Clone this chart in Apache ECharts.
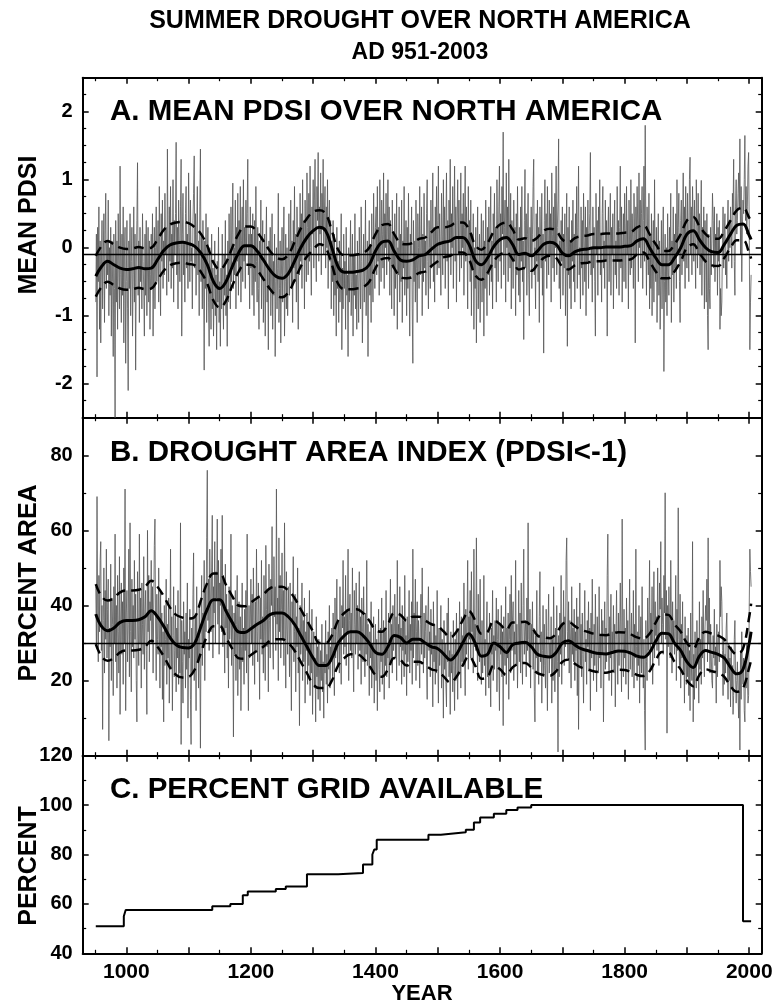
<!DOCTYPE html>
<html><head><meta charset="utf-8">
<script src="https://cdn.jsdelivr.net/npm/echarts@6/dist/echarts.min.js"></script>
<style>html,body{margin:0;padding:0;background:#fff}#c{width:776px;height:1005px}</style>
</head><body><div id="c"></div>
<script>
const startYear = 951;
// Panel A: annual mean PDSI, 951-2003
const pdsiAnnual = [
-0.8,0.2,-1.9,0.3,-0.5,0.6,-1.2,0.1,-1.4,-0.3,
0.4,-0.9,-0.2,0.5,-1.1,0.2,0.8,-0.6,0.1,-0.4,
0.7,-1.0,0.0,-0.7,0.3,-1.3,0.1,-0.5,-1.6,0.2,
-0.6,-2.5,0.4,-0.8,0.1,-1.2,0.5,-0.3,-0.9,1.2,
-0.4,-1.1,0.2,-0.7,0.6,-1.4,-0.1,0.3,-1.7,-0.5,
0.4,-0.9,-2.1,0.1,-0.6,0.5,-1.0,-0.2,0.3,-1.3,
-0.4,0.6,-0.8,0.2,-1.8,-0.3,0.4,1.25,-0.7,0.1,
-1.1,0.3,-0.5,0.0,-0.9,0.5,-0.2,-0.6,-1.3,0.2,
-0.7,0.4,-1.0,-0.3,0.3,-0.8,0.1,-1.2,-0.4,0.2,
-0.6,0.5,-1.3,-0.2,0.3,-0.9,0.0,0.6,-0.5,-0.1,
0.4,-0.8,0.9,-0.3,-1.0,0.5,-0.2,0.7,-0.6,0.1,
-0.4,0.8,-0.1,0.3,-0.7,1.45,0.0,-0.5,0.6,-0.2,
0.9,-0.6,0.2,-0.3,1.0,-0.8,0.4,-0.1,0.5,1.55,
-0.4,0.3,-0.9,0.7,0.0,-0.5,0.6,1.3,-1.3,0.2,
0.8,-0.4,0.1,-0.8,0.5,0.9,-0.3,0.2,-0.6,1.1,
0.3,-0.5,0.7,-0.2,0.0,-0.9,0.4,0.8,1.35,-0.3,
0.5,-0.7,0.2,0.9,-0.4,0.1,-1.0,0.6,1.45,-0.5,
0.2,-0.9,0.4,-0.3,-1.8,0.1,-0.6,0.5,-1.1,-0.2,
0.3,-0.8,-1.45,0.0,-0.5,-1.2,0.2,-0.9,-0.3,-1.3,
-0.6,0.1,-1.0,-0.4,-1.5,-0.2,-0.8,0.3,-1.1,-0.5,
-1.45,-0.3,-0.9,0.2,-0.6,-1.2,-0.1,-0.7,0.4,-1.0,
-0.4,-1.45,0.1,-0.8,0.5,-0.3,-0.9,0.6,-0.5,0.2,
0.95,-0.6,0.0,-0.4,0.7,-0.9,0.3,-0.2,0.8,-0.7,
0.4,-0.3,0.9,-0.8,0.1,0.6,-0.5,1.0,-0.2,0.3,
-0.6,0.7,-0.1,0.5,1.3,-0.4,0.2,-0.9,0.6,-0.3,
0.2,-0.7,0.5,-0.3,-1.0,0.4,-0.5,0.9,-0.2,-0.8,
0.3,-0.6,-1.2,0.1,-0.4,0.7,-0.9,-0.2,0.4,-1.1,
-0.5,0.2,-1.3,-0.1,0.6,-0.8,-0.3,-1.5,0.1,-0.6,
0.3,-1.0,-0.4,0.5,-1.2,-0.2,-0.7,0.2,-1.6,-0.5,
0.0,-0.9,-0.3,0.8,-1.1,-0.6,0.1,-1.4,-0.4,0.3,
-0.8,-0.2,0.6,-1.3,-0.5,0.2,-0.9,0.0,-1.0,-0.3,
0.5,-0.7,-0.1,0.7,-0.6,0.1,-1.1,0.4,-0.3,0.9,
-0.5,0.2,-0.8,0.6,0.0,-1.2,0.3,-0.4,0.8,-0.2,
0.5,-0.6,1.0,-0.1,0.4,-0.9,0.7,0.1,-0.5,1.1,
0.3,-0.4,0.8,-0.2,1.2,0.0,-0.7,0.6,0.2,1.0,
-0.3,0.7,1.3,0.1,-0.5,0.9,0.4,1.4,-0.2,0.6,
0.2,1.1,-0.4,0.8,0.3,1.3,-0.1,0.5,0.9,-0.3,
0.6,0.0,1.0,-0.6,0.3,0.7,-0.2,0.4,-0.9,0.1,
-0.5,0.4,-1.0,0.2,-0.7,-0.1,-1.3,0.3,-0.6,-0.2,
-1.1,0.1,-0.8,-0.4,0.5,-1.5,-0.3,-0.9,0.2,-0.6,
-0.2,-1.2,0.3,-0.7,-0.4,-1.6,0.0,-0.8,-0.3,0.4,
-1.0,-0.5,0.2,-1.3,-0.1,-0.7,0.5,-0.9,-0.4,-1.2,
0.1,-0.6,-1.1,0.3,-0.4,-0.9,0.6,-0.2,-1.4,-0.5,
0.2,-0.8,-0.3,0.7,-1.0,-0.4,0.1,-1.6,-0.2,0.4,
-0.7,0.0,-1.1,0.5,-0.3,-0.8,0.8,-0.1,-0.6,0.3,
0.6,-0.4,0.9,-0.2,0.3,-0.7,1.0,0.1,-0.5,0.7,
0.2,-0.3,1.1,-0.6,0.5,0.0,0.8,-0.4,0.3,1.0,
-0.2,0.6,-0.7,0.4,0.1,-0.9,0.7,-0.3,0.2,-1.0,
0.5,-0.6,-0.1,0.8,-1.2,0.0,-0.4,0.6,-0.8,0.2,
-0.5,0.7,-1.1,0.1,-0.3,0.9,-0.7,-0.2,0.4,-1.0,
0.3,-0.6,0.8,-0.4,-1.3,0.2,-0.1,0.6,-0.9,-1.7,
0.4,-0.5,0.1,-0.8,0.7,-0.3,-1.1,0.5,0.0,-0.6,
0.9,-0.4,-0.1,0.6,-1.0,0.2,-0.5,0.8,-0.3,0.1,
-0.7,0.5,1.0,-0.2,-0.9,0.4,0.0,-0.6,0.7,-0.3,
0.2,1.1,-0.5,0.3,-0.8,0.6,-0.1,0.9,-0.4,0.4,
1.2,-0.3,0.5,0.0,-0.7,0.8,0.2,-0.4,1.0,-0.1,
0.6,-0.6,0.3,1.1,-0.2,0.4,-0.9,0.7,0.1,1.3,
-0.4,0.5,0.0,0.9,-0.6,0.3,1.2,-0.2,0.6,-0.8,
0.4,1.0,-0.1,0.7,-0.5,0.2,1.1,-0.3,0.5,0.0,
0.8,-0.7,0.3,1.2,-0.2,0.6,0.1,-0.9,0.9,-0.1,
0.4,-0.5,0.7,-1.0,0.2,-0.3,0.5,-1.2,0.0,-0.6,
0.3,-1.4,-0.2,0.6,-0.9,-0.4,0.2,-1.1,-0.1,0.5,
-0.8,-0.3,0.4,-1.3,0.1,-0.6,0.7,-0.2,-1.0,0.3,
-0.4,0.6,-0.7,0.2,0.9,-0.5,0.1,-0.9,0.5,0.0,
0.8,-0.3,0.3,-0.8,1.0,0.1,-0.5,0.6,1.2,-0.2,
0.5,-0.6,0.9,0.2,1.7,-0.4,0.3,0.7,-0.8,1.1,
0.0,0.6,-0.5,1.3,0.2,-0.3,0.8,-0.9,0.4,0.1,
-0.6,0.7,-0.2,0.3,-1.0,0.5,-0.4,0.9,-0.1,-0.7,
0.3,-0.8,0.6,-0.2,0.9,-0.5,0.1,-1.35,0.4,1.15,
-0.3,0.5,-0.7,0.2,0.8,-0.4,-1.0,0.3,-0.1,0.6,
-0.6,0.2,0.9,1.3,-0.4,0.0,-0.9,0.5,-0.2,0.7,
-0.5,0.3,-1.1,0.6,0.1,-0.3,0.8,-0.7,0.2,-1.55,
0.4,1.0,-0.2,0.5,-0.6,0.9,0.1,-0.4,0.7,-0.1,
0.5,-0.8,1.1,0.2,-0.3,0.6,-0.5,0.8,0.0,1.2,
-0.4,0.3,0.7,1.6,-0.6,0.1,-0.9,0.4,-0.2,0.6,
-0.7,0.2,-0.3,0.5,-1.0,0.0,0.8,-1.45,0.3,-0.4,
0.6,-0.6,0.1,-0.9,0.4,-0.2,0.7,-0.5,0.2,-0.8,
0.5,-0.1,0.9,-0.6,0.3,1.2,-0.4,0.0,-0.9,0.6,
-0.3,0.4,-0.7,0.8,0.1,-0.5,0.6,-1.0,0.3,-0.2,
0.7,-0.6,0.2,0.5,1.4,-0.4,0.0,-0.8,0.6,-0.3,
0.3,-0.5,-1.3,0.8,-0.1,0.4,-0.7,0.6,0.0,1.0,
-0.4,0.2,-0.8,0.5,0.9,-0.3,0.1,-0.6,0.7,-0.2,
0.4,-1.3,0.2,0.6,-0.5,0.0,0.8,-0.7,0.3,-0.1,
0.5,-0.9,0.2,0.7,-0.4,0.1,-0.6,0.9,-0.2,0.4,
-0.7,0.3,1.2,-0.3,0.6,-0.8,0.0,0.5,-0.5,0.8,
0.2,-0.6,0.9,-0.1,0.4,-0.9,0.7,0.0,-0.4,1.0,
-0.3,0.5,0.1,-0.6,0.8,0.2,-1.4,0.6,-0.1,0.9,
0.3,-0.5,1.1,0.0,0.7,-0.3,0.5,0.9,-0.6,0.4,
1.2,-0.2,1.8,0.3,-0.7,0.6,0.1,-0.4,0.8,-0.9,
0.2,-0.6,0.5,-1.0,0.0,0.4,-0.8,1.0,-0.3,-0.5,
0.3,-1.1,-0.2,0.5,-0.7,0.1,-1.2,-0.4,0.4,-0.9,
-0.1,0.6,-1.82,-0.5,0.2,-0.8,0.0,-1.0,0.5,-0.3,
-0.7,0.3,-0.2,0.8,-1.1,0.1,-0.4,0.6,-0.8,0.2,
-0.3,0.5,-0.6,1.0,-0.1,0.3,0.8,-0.5,-1.1,0.4,
0.7,-0.4,0.2,1.1,-0.2,0.6,-0.6,0.9,0.1,-0.3,
0.8,0.2,-0.5,1.0,1.33,-0.1,0.6,-0.4,0.9,0.3,
-0.2,0.7,0.1,-0.6,1.0,0.4,-0.3,0.8,-0.1,0.5,
-0.4,0.2,0.99,-0.7,0.3,-0.2,0.6,-0.9,0.4,0.0,
-0.8,0.5,-1.0,-1.5,0.2,-0.6,-0.9,0.3,-0.4,0.1,
0.8,0.4,-0.3,0.6,-0.5,0.2,-0.1,0.5,-0.7,0.3,
-0.2,0.4,-1.2,-0.6,-1.0,-0.8,0.1,0.6,-0.3,0.2,
0.5,-0.4,-0.1,-0.6,0.3,0.7,-0.2,0.4,0.0,0.6,
0.3,-0.3,0.8,0.5,1.3,-0.2,-0.7,0.6,1.0,0.2,
0.4,0.8,1.1,0.6,1.6,-0.1,0.9,-0.5,0.3,0.7,
0.5,1.0,1.65,0.4,0.9,0.2,0.6,1.2,1.4,0.3,
-1.5,-0.8,-0.4
];
// Panel B: annual drought area index (%), 951-2003
const daiAnnual = [
45,30,69,38,25,48,33,52,57,28,
40,7,36,50,22,44,31,55,26,39,
47,4,34,29,51,20,42,35,16,45,
30,59,25,40,18,48,33,22,53,11,
36,46,27,41,19,50,30,71,12,38,
44,25,35,55,21,62,33,17,47,29,
40,26,52,31,43,20,9,49,34,24,
59,30,42,18,46,35,27,53,23,38,
44,28,11,60,33,48,25,41,36,52,
30,45,22,39,56,63,34,20,43,31,
27,50,36,18,44,29,38,15,33,9,
40,24,31,47,19,35,26,42,14,30,
55,23,37,12,32,45,21,28,40,17,
34,26,44,19,30,22,62,3,36,25,
14,41,27,33,18,38,23,46,10,31,
26,39,15,3,34,22,43,54,20,29,
37,12,45,25,31,18,40,27,2,35,
48,24,38,30,52,20,44,33,58,76,
36,47,28,55,41,33,50,64,26,45,
38,57,30,49,42,63,35,52,27,46,
40,55,33,64,29,48,37,22,51,34,
43,26,39,18,45,31,36,59,24,40,
30,5,38,27,44,20,35,48,16,33,
41,23,37,12,29,46,25,34,19,39,
28,44,22,59,31,12,40,26,35,47,
30,43,24,50,36,19,41,28,55,33,
25,46,38,15,42,31,52,27,37,22,
48,34,20,56,39,29,44,17,51,36,
26,47,40,61,30,23,53,37,45,28,
71,35,42,20,58,33,48,26,39,54,
31,44,24,62,37,18,49,34,27,45,
38,21,46,30,12,41,35,53,25,33,
43,17,37,29,50,22,34,8,40,27,
31,46,20,36,25,42,14,33,28,38,
19,35,24,44,16,30,22,39,11,27,
33,18,26,9,37,21,29,15,31,24,
12,28,20,35,17,25,10,30,22,36,
19,27,14,33,23,40,18,29,25,34,
21,38,28,16,42,26,33,47,24,31,
36,22,45,30,19,40,34,52,27,37,
29,48,24,39,33,55,20,36,43,28,
38,26,50,31,17,44,35,27,46,30,
40,23,34,49,28,37,19,42,33,25,
45,30,21,38,27,52,24,35,29,16,
33,26,41,18,30,22,37,14,28,35,
20,31,12,27,39,23,17,34,25,42,
19,29,36,15,33,24,44,21,30,26,
38,18,31,47,25,35,22,40,28,33,
43,26,37,20,52,30,35,24,45,29,
34,19,40,28,36,21,48,27,32,16,
37,25,31,44,22,35,28,41,19,55,
26,38,30,47,20,33,41,24,36,29,
18,35,43,27,50,31,22,38,26,33,
40,24,15,36,45,28,33,21,39,27,
30,13,41,25,35,19,32,22,44,26,
14,34,24,29,40,18,31,27,10,36,
23,30,19,13,38,25,42,21,28,11,
33,22,27,17,36,24,12,31,20,38,
26,15,34,22,41,29,18,37,25,32,
24,46,30,16,39,27,35,52,23,37,
31,44,26,49,33,38,22,55,29,35,
28,58,32,20,43,30,25,47,27,19,
36,22,29,48,24,31,16,33,41,21,
30,18,38,25,13,34,27,44,20,32,
23,36,28,42,17,31,39,25,12,35,
27,40,21,33,8,37,29,24,45,19,
34,26,38,15,31,43,22,48,28,36,
41,20,33,27,52,24,35,18,30,44,
25,38,22,46,30,19,40,55,27,33,
36,21,42,28,62,31,24,39,18,35,
29,41,23,34,17,9,32,26,44,22,
30,19,37,49,25,33,14,28,40,21,
35,24,18,39,27,12,33,43,22,30,
26,37,14,31,20,45,28,17,34,23,
40,25,1,32,21,38,27,48,19,35,
30,44,24,37,29,52,58,33,26,41,
22,36,31,18,45,27,34,25,39,20,
33,28,42,16,37,7,30,46,24,35,
21,38,27,14,33,44,25,31,19,36,
29,41,23,34,12,38,26,47,31,20,
35,24,43,28,17,37,30,22,45,26,
32,18,39,27,36,9,29,41,23,34,
25,48,59,30,20,37,26,43,16,33,
28,40,22,35,13,31,44,27,19,38,
24,33,46,29,17,63,30,21,39,26,
34,19,42,28,36,15,31,47,23,30,
38,21,27,44,18,35,26,55,29,20,
33,24,40,14,30,37,22,45,27,18,
31,12,1.5,36,25,20,42,28,34,52,
23,38,30,45,19,35,49,26,41,32,
37,28,50,33,24,46,39,57,30,42,
35,27,48,38,70,31,44,6,40,29,
45,34,26,52,37,22,41,30,36,27,
33,48,20,39,28,66,31,24,43,18,
35,26,41,22,30,14,37,25,19,32,
21,34,16,28,12,38,24,20,57,9,
27,15,33,22,18,36,25,30,14,41,
23,31,19,37,26,44,28,21,34,40,
36,47,25,58,30,42,22,35,27,20,
18,32,26,39,24,29,14,35,21,30,
33,25,52,37,45,41,28,16,31,19,
27,22,34,38,24,15,30,20,26,13,
29,18,24,11,16,31,36,21,14,20,
25,17,10,22,1.5,28,15,33,23,19,
26,12,9,24,18,30,21,14,16,40,
55,49,45
];
// Smoothed curves and confidence limits, sampled every decade
const smoothYears = [951].concat(Array.from({length:105}, (_, i) => 960 + 10 * i)).concat([2003]);
const pdsiSmooth = [-0.42,-0.28,-0.2,-0.25,-0.3,-0.32,-0.31,-0.29,-0.31,-0.3,-0.18,-0.04,0.04,0.07,0.08,0.06,0.02,-0.08,-0.25,-0.5,-0.6,-0.5,-0.28,-0.08,0.03,0.03,-0.05,-0.18,-0.32,-0.42,-0.45,-0.38,-0.2,0.0,0.15,0.25,0.3,0.25,0.0,-0.28,-0.36,-0.36,-0.35,-0.33,-0.25,-0.05,0.08,0.1,-0.05,-0.18,-0.2,-0.18,-0.12,-0.1,-0.02,0.05,0.08,0.1,0.15,0.15,0.05,-0.18,-0.25,-0.15,0.02,0.12,0.15,0.05,-0.1,-0.08,-0.12,-0.05,0.05,0.08,0.05,-0.08,-0.12,-0.06,-0.03,-0.02,0.0,0.0,0.01,0.01,0.01,0.02,0.03,0.1,0.13,0.0,-0.15,-0.25,-0.25,-0.15,0.0,0.2,0.25,0.12,0.0,-0.06,-0.07,0.05,0.2,0.33,0.35,0.18,0.12];
const pdsiUpper = [-0.12,0.02,0.1,0.05,0.0,-0.02,-0.01,0.01,-0.01,0.0,0.12,0.26,0.34,0.37,0.38,0.36,0.3,0.2,0.03,-0.22,-0.32,-0.22,0.0,0.2,0.31,0.31,0.23,0.1,-0.04,-0.14,-0.17,-0.1,0.08,0.28,0.43,0.53,0.55,0.5,0.25,-0.03,-0.11,-0.11,-0.1,-0.08,0.0,0.2,0.33,0.35,0.2,0.07,0.05,0.07,0.13,0.15,0.23,0.3,0.3,0.32,0.37,0.37,0.27,0.04,-0.03,0.07,0.24,0.34,0.37,0.27,0.12,0.14,0.1,0.15,0.25,0.28,0.25,0.12,0.08,0.14,0.17,0.18,0.2,0.2,0.21,0.21,0.21,0.22,0.23,0.3,0.33,0.2,0.05,-0.05,-0.05,0.05,0.2,0.4,0.45,0.32,0.2,0.14,0.13,0.25,0.4,0.55,0.59,0.44,0.4];
const pdsiLower = [-0.72,-0.58,-0.5,-0.55,-0.6,-0.62,-0.61,-0.59,-0.61,-0.6,-0.48,-0.34,-0.26,-0.23,-0.22,-0.24,-0.26,-0.36,-0.53,-0.78,-0.88,-0.78,-0.56,-0.36,-0.25,-0.25,-0.33,-0.46,-0.6,-0.7,-0.73,-0.66,-0.48,-0.28,-0.13,-0.03,0.05,0.0,-0.25,-0.53,-0.61,-0.61,-0.6,-0.58,-0.5,-0.3,-0.17,-0.15,-0.3,-0.43,-0.45,-0.43,-0.37,-0.35,-0.27,-0.2,-0.14,-0.12,-0.07,-0.07,-0.17,-0.4,-0.47,-0.37,-0.2,-0.1,-0.07,-0.17,-0.32,-0.3,-0.34,-0.25,-0.15,-0.12,-0.15,-0.28,-0.32,-0.26,-0.23,-0.22,-0.2,-0.2,-0.19,-0.19,-0.19,-0.18,-0.17,-0.1,-0.07,-0.2,-0.35,-0.45,-0.45,-0.35,-0.2,0.0,0.05,-0.08,-0.2,-0.26,-0.27,-0.15,0.0,0.11,0.11,-0.08,-0.16];
const daiSmooth = [37.7,34.5,33.3,34,35.5,36,36,36.2,37,38.6,37,34.5,31.5,29.5,28.8,28.7,30,34.5,39,41.5,41.5,38.5,35.5,33,32.8,33.8,35,36,37.5,38,38,37,35,32,29,26,24,24,26,30,32,33,33,32,30,27.5,27,29,32,31.5,30,31,31,30,29,28.5,27,25.5,27,30,32.5,30,26.5,27,30,29,27.5,29.5,30,30.2,29,27,26.5,26.3,27.5,30,30.6,29.5,28.5,28,27.5,27.2,27.1,27.5,27.9,27.8,27.3,26.5,26.2,27.5,30.5,32.6,32.5,30,28,25,23.5,26.5,28,27.5,27,26,23.5,21.8,23,30,33];
const daiUpper = [45.7,42.5,41.3,42,43.5,44,44,44.2,45,46.6,45,42.5,39.5,37.5,36.8,36.5,37,41.5,46,48.5,48.5,45.5,42.5,40,39.8,40.8,42,43,44.5,45,45,44,42,39,36,33,30,30,32,36,38,39,39,38,36,33.5,33,35,38,37.5,36,37,37,36,35,34.5,33,31.5,33,36,38.5,36,32.5,33,36,35,33.5,35.5,35.5,35.7,34.5,32,31.5,31.3,32.5,35,35.6,34.5,33.5,33,32.5,32.2,32.1,32.5,32.9,32.8,32.3,31.5,31.2,32.5,35.5,37.6,37.5,35,33,30,28.5,31.5,33,32.5,32,31,28.5,27,28.5,37,40.5];
const daiLower = [29.7,26.5,25.3,26,27.5,28,28,28.2,29,30.6,29,26.5,23.5,21.5,20.8,21,23,27.5,32,34.5,34.5,31.5,28.5,26,25.8,26.8,28,29,30.5,31,31,30,28,25,22,19,18,18,20,24,26,27,27,26,24,21.5,21,23,26,25.5,24,25,25,24,23,22.5,21,19.5,21,24,26.5,24,20.5,21,24,23,21.5,23.5,24.5,24.7,23.5,22,21.5,21.3,22.5,25,25.6,24.5,23.5,23,22.5,22.2,22.1,22.5,22.9,22.8,22.3,21.5,21.2,22.5,25.5,27.6,27.5,25,23,20,18.5,21.5,23,22.5,22,21,18.5,17,18,23.5,25.5];
const pdsiRef = -0.1;
const daiRef = 30;
// Panel C: percent of grid available (step changes)
const gridYears   = [951, 996, 999, 1138, 1167, 1187, 1195, 1240, 1256, 1290, 1340, 1380, 1395, 1398, 1402, 1485, 1505, 1525, 1545, 1558, 1568, 1590, 1610, 1628, 1650, 1990, 2003];
const gridPercent = [51, 55, 57.5, 59, 60, 63.5, 65, 66, 67, 72, 72.5, 76, 80, 82, 86, 88, 88.5, 89, 90, 93, 95, 96.5, 98, 99, 100, 53, 53];
// Axis ticks and labels
const xTickLabels = [1000, 1200, 1400, 1600, 1800, 2000];
const xMajorTicks = [1000, 1100, 1200, 1300, 1400, 1500, 1600, 1700, 1800, 1900, 2000];
const xMinorTicks = [950, 1050, 1150, 1250, 1350, 1450, 1550, 1650, 1750, 1850, 1950];
const pdsiTickLabels = [-2, -1, 0, 1, 2];
const pdsiMinorTicks = [-2.25, -1.75, -1.5, -1.25, -0.75, -0.5, -0.25, 0.25, 0.5, 0.75, 1.25, 1.5, 1.75, 2.25];
const daiTickLabels = [0, 20, 40, 60, 80];
const daiMajorTicks = [20, 40, 60, 80];
const daiMinorTicks = [10, 30, 50, 70];
const gridTickLabels = [40, 60, 80, 100, 120];
const gridMajorTicks = [60, 80, 100];
const gridMinorTicks = [50, 70, 90, 110];

if (pdsiAnnual.length !== 1053 || daiAnnual.length !== 1053) throw new Error('len ' + pdsiAnnual.length + ' ' + daiAnnual.length);
if (pdsiSmooth.length !== smoothYears.length || pdsiUpper.length !== smoothYears.length || pdsiLower.length !== smoothYears.length ||
    daiSmooth.length !== smoothYears.length || daiUpper.length !== smoothYears.length || daiLower.length !== smoothYears.length) throw new Error('smooth len');

const FONT = '"Liberation Sans", Arial, Helvetica, sans-serif';
const annual = arr => arr.map((v, i) => [startYear + i, v]);
const pairs = (xs, ys) => xs.map((x, i) => [x, ys[i]]);
const plain = v => String(v);

const L = 82.7, W = 679;
const grids = [
  {left: L, top: 77.7, width: W, height: 340},
  {left: L, top: 417.7, width: W, height: 338},
  {left: L, top: 755.7, width: W, height: 197.6}
];
const yRanges = [[-2.5, 2.5], [0, 90], [40, 120]];
const yLabelSets = [pdsiTickLabels, daiTickLabels, gridTickLabels];
const yMajorSets = [pdsiTickLabels, daiMajorTicks, gridMajorTicks];
const yMinorSets = [pdsiMinorTicks, daiMinorTicks, gridMinorTicks];

const lineBlack = {color: '#000', width: 2};
const xAxes = [], yAxes = [];
for (let g = 0; g < 3; g++) {
  const bx = {type: 'value', gridIndex: g, min: 930, max: 2020, splitLine: {show: false}};
  for (const pos of ['bottom', 'top']) {
    xAxes.push(Object.assign({}, bx, {position: pos,
      axisLine: {show: true, onZero: false, lineStyle: lineBlack},
      axisTick: {show: true, inside: true, length: 6, customValues: xMajorTicks, lineStyle: {color: '#000', width: 1.5}},
      axisLabel: {show: g === 2 && pos === 'bottom', customValues: xTickLabels, formatter: plain, fontSize: 21, fontWeight: 'bold', fontFamily: FONT, color: '#000', margin: 8}}));
    xAxes.push(Object.assign({}, bx, {position: pos,
      axisLine: {show: false, onZero: false},
      axisTick: {show: true, inside: true, length: 3.5, customValues: xMinorTicks, lineStyle: {color: '#000', width: 1.2}},
      axisLabel: {show: false}}));
  }
  const by = {type: 'value', gridIndex: g, min: yRanges[g][0], max: yRanges[g][1], splitLine: {show: false}};
  for (const pos of ['left', 'right']) {
    yAxes.push(Object.assign({}, by, {position: pos,
      axisLine: {show: true, onZero: false, lineStyle: lineBlack},
      axisTick: {show: true, inside: true, length: 6, customValues: yMajorSets[g], lineStyle: {color: '#000', width: 1.5}},
      axisLabel: {show: pos === 'left', customValues: yLabelSets[g], formatter: plain, fontSize: 20, fontWeight: 'bold', fontFamily: FONT, color: '#000', margin: 10}}));
    yAxes.push(Object.assign({}, by, {position: pos,
      axisLine: {show: false, onZero: false},
      axisTick: {show: true, inside: true, length: 3.5, customValues: yMinorSets[g], lineStyle: {color: '#000', width: 1.2}},
      axisLabel: {show: false}}));
  }
}

function panelSeries(g, ann, sm, up, lo, ref) {
  const xi = 4 * g, yi = 4 * g;
  const base = {type: 'line', xAxisIndex: xi, yAxisIndex: yi, showSymbol: false, symbol: 'none', silent: true, animation: false};
  return [
    Object.assign({}, base, {data: annual(ann), lineStyle: {color: '#555', width: 0.8}, z: 2,
      markLine: {silent: true, symbol: 'none', label: {show: false}, animation: false,
        lineStyle: {color: '#000', width: 1.3, type: 'solid'}, data: [{yAxis: ref}]}}),
    Object.assign({}, base, {data: pairs(smoothYears, up), smooth: 0.4, lineStyle: {color: '#000', width: 2.5, type: [10, 6]}, z: 3}),
    Object.assign({}, base, {data: pairs(smoothYears, lo), smooth: 0.4, lineStyle: {color: '#000', width: 2.5, type: [10, 6]}, z: 3}),
    Object.assign({}, base, {data: pairs(smoothYears, sm), smooth: 0.4, lineStyle: {color: '#000', width: 3}, z: 4})
  ];
}

const series = [].concat(
  panelSeries(0, pdsiAnnual, pdsiSmooth, pdsiUpper, pdsiLower, pdsiRef),
  panelSeries(1, daiAnnual, daiSmooth, daiUpper, daiLower, daiRef),
  [{type: 'line', xAxisIndex: 8, yAxisIndex: 8, step: 'end', showSymbol: false, symbol: 'none', animation: false,
    data: pairs(gridYears, gridPercent), lineStyle: {color: '#000', width: 2}}]
);

const txt = (text, x, y, size, align, rot) => ({type: 'text', x: x, y: y, rotation: rot || 0, silent: true,
  style: {text: text, font: 'bold ' + size + 'px ' + FONT, fill: '#000', textAlign: align, textVerticalAlign: 'middle'}});

const chart = echarts.init(document.getElementById('c'), null, {renderer: 'canvas'});
chart.setOption({
  animation: false,
  backgroundColor: '#fff',
  grid: grids,
  xAxis: xAxes,
  yAxis: yAxes,
  series: series,
  graphic: [
    txt('SUMMER DROUGHT OVER NORTH AMERICA', 420, 21, 25, 'center'),
    txt('AD 951-2003', 420, 53, 23, 'center'),
    txt('A. MEAN PDSI OVER NORTH AMERICA', 110, 112, 29.5, 'left'),
    txt('B. DROUGHT AREA INDEX (PDSI<-1)', 110, 452.5, 29.5, 'left'),
    txt('C. PERCENT GRID AVAILABLE', 110, 790, 29.5, 'left'),
    txt('MEAN PDSI', 29, 225, 25, 'center', Math.PI / 2),
    txt('PERCENT AREA', 29, 583, 25, 'center', Math.PI / 2),
    txt('PERCENT', 29, 866, 25, 'center', Math.PI / 2),
    txt('YEAR', 422, 994, 22, 'center')
  ]
});
</script>
</body></html>
